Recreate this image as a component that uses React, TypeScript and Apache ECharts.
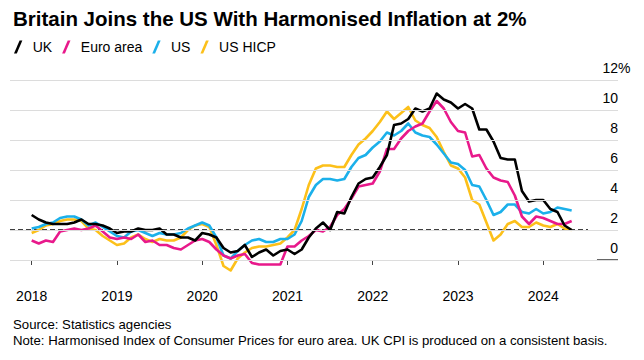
import React, { useEffect, useRef } from "react";
import * as echarts from "echarts";

// Monthly data, Jan 2018 .. May 2024 (index 0 = Jan 2018)
const START_YEAR = 2018;
const ukCPI = [
  3.0, 2.7, 2.5, 2.4, 2.4, 2.4, 2.5, 2.7, 2.4, 2.4, 2.3, 2.1,
  1.8, 1.9, 1.9, 2.1, 2.0, 2.0, 2.1, 1.7, 1.7, 1.5, 1.5, 1.3,
  1.8, 1.7, 1.5, 0.8, 0.5, 0.6, 1.0, 0.2, 0.5, 0.7, 0.3, 0.6,
  0.7, 0.4, 0.7, 1.5, 2.1, 2.5, 2.0, 3.2, 3.1, 4.2, 5.1, 5.4,
  5.5, 6.2, 7.0, 9.0, 9.1, 9.4, 10.1, 9.9, 10.1, 11.1, 10.7, 10.5,
  10.1, 10.4, 10.1, 8.7, 8.7, 7.9, 6.8, 6.7, 6.7, 4.6, 3.9, 4.0,
  4.0, 3.4, 3.2, 2.3, 2.0,
];
const euroHICP = [
  1.3, 1.1, 1.3, 1.2, 1.9, 2.0, 2.1, 2.0, 2.1, 2.3, 1.9, 1.5,
  1.4, 1.5, 1.4, 1.7, 1.2, 1.3, 1.0, 1.0, 0.8, 0.7, 1.0, 1.3,
  1.4, 1.2, 0.7, 0.3, 0.1, 0.3, 0.4, -0.2, -0.3, -0.3, -0.3, -0.3,
  0.9, 0.9, 1.3, 1.6, 2.0, 1.9, 2.2, 3.0, 3.4, 4.1, 4.9, 5.0,
  5.1, 5.9, 7.4, 7.4, 8.1, 8.6, 8.9, 9.1, 9.9, 10.6, 10.1, 9.2,
  8.6, 8.5, 6.9, 7.0, 6.1, 5.5, 5.3, 5.2, 4.3, 2.9, 2.4, 2.9,
  2.8, 2.6, 2.4, 2.4, 2.6,
];
const usCPI = [
  2.1, 2.2, 2.4, 2.5, 2.8, 2.9, 2.9, 2.7, 2.3, 2.5, 2.2, 1.9,
  1.6, 1.5, 1.9, 2.0, 1.8, 1.6, 1.8, 1.7, 1.7, 1.8, 2.1, 2.3,
  2.5, 2.3, 1.5, 0.3, 0.1, 0.6, 1.0, 1.3, 1.4, 1.2, 1.2, 1.4,
  1.4, 1.7, 2.6, 4.2, 5.0, 5.4, 5.4, 5.3, 5.4, 6.2, 6.8, 7.0,
  7.5, 7.9, 8.5, 8.3, 8.6, 9.1, 8.5, 8.3, 8.2, 7.7, 7.1, 6.5,
  6.4, 6.0, 5.0, 4.9, 4.0, 3.0, 3.2, 3.7, 3.7, 3.2, 3.1, 3.4,
  3.1, 3.2, 3.5, 3.4, 3.3,
];
const usHICP = [
  1.8, 2.0, 2.3, 2.4, 2.6, 2.7, 2.7, 2.6, 2.1, 2.0, 1.6, 1.3,
  1.0, 1.1, 1.5, 1.7, 1.4, 1.2, 1.4, 1.3, 1.3, 1.5, 2.0, 2.3,
  2.4, 2.2, 1.0, -0.4, -0.7, 0.1, 0.5, 0.8, 0.9, 0.9, 1.0, 1.1,
  1.5, 2.0, 3.4, 5.0, 6.1, 6.3, 6.3, 6.2, 6.2, 7.0, 7.7, 8.1,
  8.6, 9.2, 9.9, 9.4, 9.8, 10.2, 9.3, 9.0, 8.8, 8.2, 7.2, 6.3,
  6.1, 5.5, 4.0, 3.7, 2.5, 1.3, 1.7, 2.4, 2.6, 2.2, 2.2, 2.5,
  2.3, 2.2, 2.4, 2.1, 2.0,
];
const yearTicks = [0, 12, 24, 36, 48, 60, 72];
const yTicks = [0, 2, 4, 6, 8, 10, 12];
const TARGET = 2;

const TITLE = "Britain Joins the US With Harmonised Inflation at 2%";
const SOURCE = "Source: Statistics agencies";
const NOTE =
  "Note: Harmonised Index of Consumer Prices for euro area. UK CPI is produced on a consistent basis.";

const COLORS = {
  uk: "#000000",
  euro: "#e8198b",
  us: "#1bb0ea",
  usHicp: "#fcc01a",
};

const X_MIN = -3.05;
const X_MAX = 82.52;
const DASH_END = 78.3;
const ZERO_MARK_START = 79.56;
const FONT = "'Liberation Sans', Arial, Helvetica, sans-serif";

const toPairs = (arr: number[]) => arr.map((v, i) => [i, v]);

const SLASH = "path://M0,14 L3,14 L9,0 L6,0 Z";

export default function App() {
  const ref = useRef<HTMLDivElement>(null);
  useEffect(() => {
    if (!ref.current) return;
    const chart = echarts.init(ref.current, undefined, { renderer: "svg" });
    const lineSeries = (name: string, data: number[], color: string) => ({
      name,
      type: "line",
      data: toPairs(data),
      showSymbol: false,
      symbol: "none",
      z: 3,
      lineStyle: { color, width: 2.6, join: "round" },
      itemStyle: { color },
    });
    const gridLabel = {
      position: "insideEndTop",
      distance: [0, 5],
      color: "#000",
      fontSize: 14,
      fontFamily: FONT,
    };
    chart.setOption({
      animation: false,
      textStyle: { fontFamily: FONT },
      title: {
        text: TITLE,
        left: 13,
        top: 8,
        padding: 0,
        textStyle: { fontSize: 20.5, fontWeight: "bold", color: "#000", fontFamily: FONT },
      },
      legend: {
        left: 14,
        top: 40,
        padding: 0,
        itemGap: 10,
        itemWidth: 9,
        itemHeight: 13,
        icon: SLASH,
        data: ["UK", "Euro area", "US", "US HICP"],
        formatter: (n: string) => `{t|${n}}`,
        textStyle: {
          fontSize: 14,
          color: "#000",
          fontFamily: FONT,
          rich: { t: { fontSize: 14, color: "#000", fontFamily: FONT, padding: [0, 0, 0, 5] } },
        },
      },
      grid: { left: 10, right: 26, top: 80, bottom: 85 },
      xAxis: {
        type: "value",
        min: X_MIN,
        max: X_MAX,
        axisLine: { show: false },
        splitLine: { show: false },
        axisTick: {
          show: true,
          length: 5,
          customValues: yearTicks,
          lineStyle: { color: "#444", width: 1 },
        },
        axisLabel: {
          customValues: yearTicks,
          margin: 14,
          fontSize: 14,
          color: "#000",
          fontFamily: FONT,
          formatter: (v: number) => String(START_YEAR + Math.round(v / 12)),
        },
      },
      yAxis: { type: "value", min: -1, max: 12, show: false },
      series: [
        {
          name: "grid",
          type: "line",
          data: [],
          z: 1,
          markLine: {
            silent: true,
            symbol: ["none", "none"],
            lineStyle: { color: "#dcdcdc", width: 1, type: "solid" },
            label: {
              ...gridLabel,
              formatter: (p: any) => String(p.value),
            },
            data: yTicks.map((v) =>
              v === 12
                ? {
                    yAxis: v,
                    label: { ...gridLabel, distance: [-12.5, 5], formatter: `${v}%` },
                  }
                : { yAxis: v }
            ),
          },
        },
        {
          name: "zero",
          type: "line",
          data: [
            [ZERO_MARK_START, 0],
            [X_MAX, 0],
          ],
          symbol: "none",
          z: 2,
          silent: true,
          lineStyle: { color: "#666", width: 2 },
        },
        {
          name: "target",
          type: "line",
          data: [
            [X_MIN, TARGET],
            [DASH_END, TARGET],
          ],
          symbol: "none",
          z: 2,
          silent: true,
          lineStyle: { color: "#000", width: 1.4, type: [5, 3] },
        },
        lineSeries("US HICP", usHICP, COLORS.usHicp),
        lineSeries("US", usCPI, COLORS.us),
        lineSeries("Euro area", euroHICP, COLORS.euro),
        lineSeries("UK", ukCPI, COLORS.uk),
      ],
      graphic: [
        {
          type: "text",
          left: 13,
          top: 318,
          style: { text: SOURCE, fontSize: 13.2, fill: "#000", fontFamily: FONT },
        },
        {
          type: "text",
          left: 13,
          top: 334,
          style: { text: NOTE, fontSize: 13.2, fill: "#000", fontFamily: FONT },
        },
      ],
    });
    return () => chart.dispose();
  }, []);
  return (
    <div
      ref={ref}
      style={{ position: "absolute", left: 0, top: 0, width: 644, height: 360 }}
    />
  );
}
